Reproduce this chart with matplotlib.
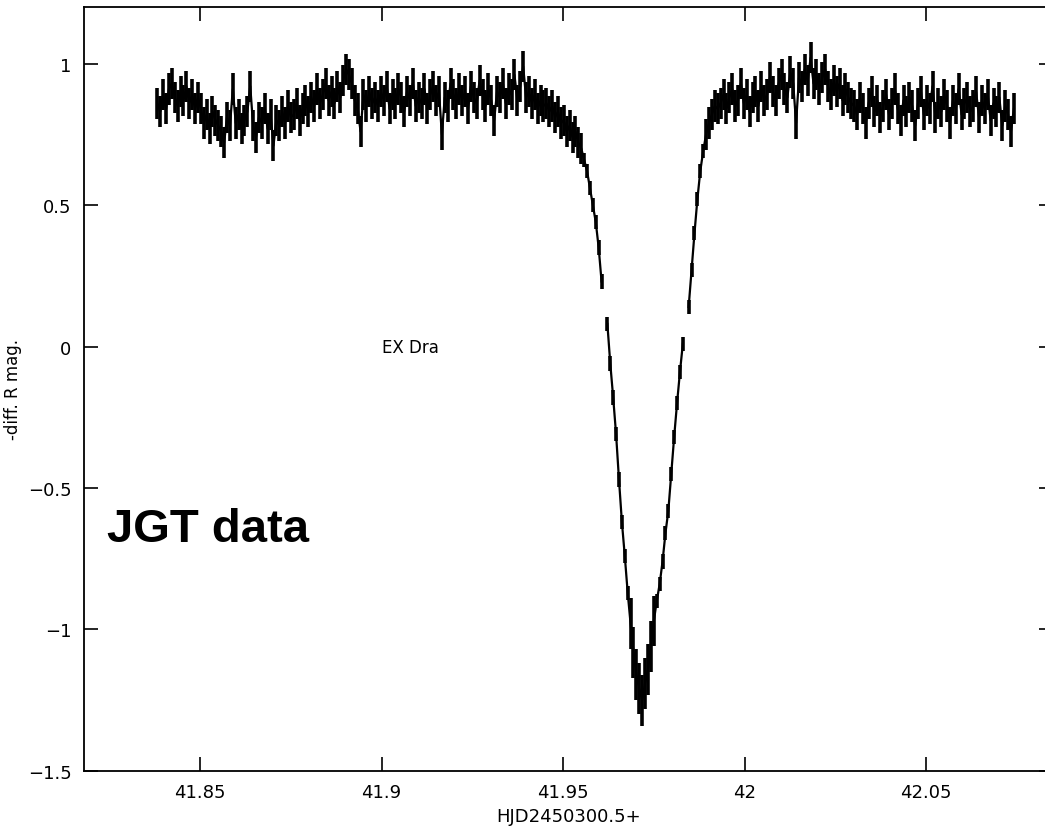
import numpy as np
import matplotlib
matplotlib.use("Agg")
import matplotlib.pyplot as plt

# Кривая блеска EX Dra (данные JGT), оценено по рисунку
T_START = 41.8382      # HJD2450300.5+
CADENCE = 0.0008       # шаг по времени, сутки
nan = np.nan

mag = [
    # вне затмения, начало
    0.86, 0.83, 0.89, 0.84, 0.91, 0.93, 0.88, 0.85, 0.90, 0.87, 0.92, 0.86, 0.89, 0.84, 0.88,
    0.84, 0.79, 0.82, 0.77, 0.83, 0.80, 0.78,
    0.76, 0.72, 0.81, 0.78, 0.91, 0.79, 0.82, 0.77, 0.80, 0.83,
    0.92, 0.78, 0.74, 0.81, 0.79, 0.84, 0.77, 0.82, 0.71, 0.80,
    0.78, 0.83, 0.79, 0.85, 0.81,
    0.82, 0.86, 0.80, 0.84, 0.87, 0.83, 0.88, 0.85, 0.91, 0.86, 0.89, 0.93, 0.87,
    0.90, 0.86, 0.92, 0.88,
    0.94, 0.98, 0.96, 0.93,
    0.87, 0.84, 0.76, 0.89, 0.85, 0.90, 0.86,
    0.88, 0.85, 0.90, 0.87, 0.92, 0.84, 0.89, 0.86, 0.91, 0.88,
    0.83, 0.90, 0.87, 0.93, 0.85, 0.88, 0.86, 0.91, 0.84, 0.89,
    0.92, 0.87, 0.90, 0.75, 0.88, 0.85, 0.93, 0.89, 0.86, 0.91,
    0.87, 0.90, 0.84, 0.92, 0.88, 0.86, 0.94, 0.89, 0.85, 0.91,
    0.87, 0.80, 0.90, 0.88, 0.93, 0.86, 0.91, 0.89, 0.96, 0.87,
    0.92, 0.99, 0.88,
    0.90, 0.86, 0.89, 0.84, 0.87, 0.85,
    # затмение
    0.86, 0.83, 0.85, 0.81, 0.83, 0.79, 0.80, 0.76, 0.78, 0.74,
    0.76, 0.72, 0.70, 0.66, 0.62, 0.56, 0.50, 0.44, 0.35, 0.23,
    nan, 0.08, -0.06, -0.18, -0.31, -0.47, -0.62, -0.74, -0.87, -0.98,
    -1.08, -1.16, -1.21, -1.25, -1.19, -1.14, -1.06, -0.97, -0.90, -0.84,
    -0.76, -0.66, -0.58, -0.45, -0.32, -0.20, -0.09, 0.01, nan, 0.14,
    0.27, 0.40, 0.52, 0.62, 0.69, 0.75, 0.79, 0.82, 0.85, 0.84,
    # после затмения
    0.86, 0.89, 0.84, 0.88, 0.91, 0.85, 0.87, 0.93, 0.86, 0.89, 0.83, 0.88, 0.90, 0.85, 0.92, 0.87,
    0.89, 0.95, 0.90, 0.87, 0.93, 0.96, 0.91, 0.88, 0.97, 0.93, 0.79, 0.95, 0.92, 0.98, 0.94,
    1.02, 0.93, 0.96, 0.91, 0.95, 0.98, 0.92, 0.89, 0.94, 0.90, 0.93, 0.87, 0.91, 0.88, 0.86,
    0.85, 0.82, 0.88, 0.84, 0.79, 0.86, 0.90, 0.83, 0.87, 0.81,
    0.85, 0.89, 0.82, 0.86, 0.91, 0.84, 0.80, 0.87, 0.83, 0.88,
    0.85, 0.78, 0.86, 0.90, 0.82, 0.87, 0.84, 0.92, 0.81, 0.86,
    0.83, 0.89, 0.85, 0.79, 0.87, 0.84, 0.91, 0.82, 0.86, 0.88,
    0.83, 0.85, 0.90, 0.81, 0.87, 0.84, 0.89, 0.80, 0.86, 0.83,
    0.88, 0.78, 0.85, 0.82, 0.76, 0.84,
]

ERR_OUT = 0.055     # ошибка вне затмения
ERR_BRANCH = 0.025  # ошибка на ветвях затмения
ERR_MIN = 0.09      # ошибка в минимуме

x_ticks = [41.85, 41.9, 41.95, 42.0, 42.05]
x_ticklabels = ["41.85", "41.9", "41.95", "42", "42.05"]
y_ticks = [-1.5, -1, -0.5, 0, 0.5, 1]
y_ticklabels = ["\u22121.5", "\u22121", "\u22120.5", "0", "0.5", "1"]


def main():
    y = np.array(mag, dtype=float)
    t = T_START + CADENCE * np.arange(len(y))
    err = np.where(y < -0.9, ERR_MIN, np.where(y < 0.7, ERR_BRANCH, ERR_OUT))

    fig = plt.figure(figsize=(10.45, 8.29), dpi=100)
    ax = fig.add_axes([0.0804, 0.0688, 0.9273, 0.9216])

    ax.errorbar(t, y, yerr=err, fmt='-', color='k', lw=1.6,
                elinewidth=2.6, capsize=0)

    ax.set_xlim(41.818, 42.085)
    ax.set_ylim(-1.5, 1.2)
    ax.set_xticks(x_ticks)
    ax.set_xticklabels(x_ticklabels)
    ax.set_yticks(y_ticks)
    ax.set_yticklabels(y_ticklabels)
    ax.tick_params(direction='in', length=10, width=1.2, labelsize=13,
                   top=True, right=True, pad=9)
    for s in ax.spines.values():
        s.set_linewidth(1.3)

    ax.set_xlabel("HJD2450300.5+", fontsize=13, labelpad=4)
    ax.set_ylabel("-diff. R mag.", fontsize=12)
    ax.yaxis.set_label_coords(-0.064, 0.50)

    ax.text(41.9, 0.0, "EX Dra", fontsize=12, va='center', ha='left')
    ax.text(0.024, 0.301, "JGT data", transform=ax.transAxes,
            fontsize=34, fontweight='bold', family='Liberation Sans',
            va='baseline', ha='left')

    fig.savefig("out.png", dpi=100)


if __name__ == "__main__":
    main()
